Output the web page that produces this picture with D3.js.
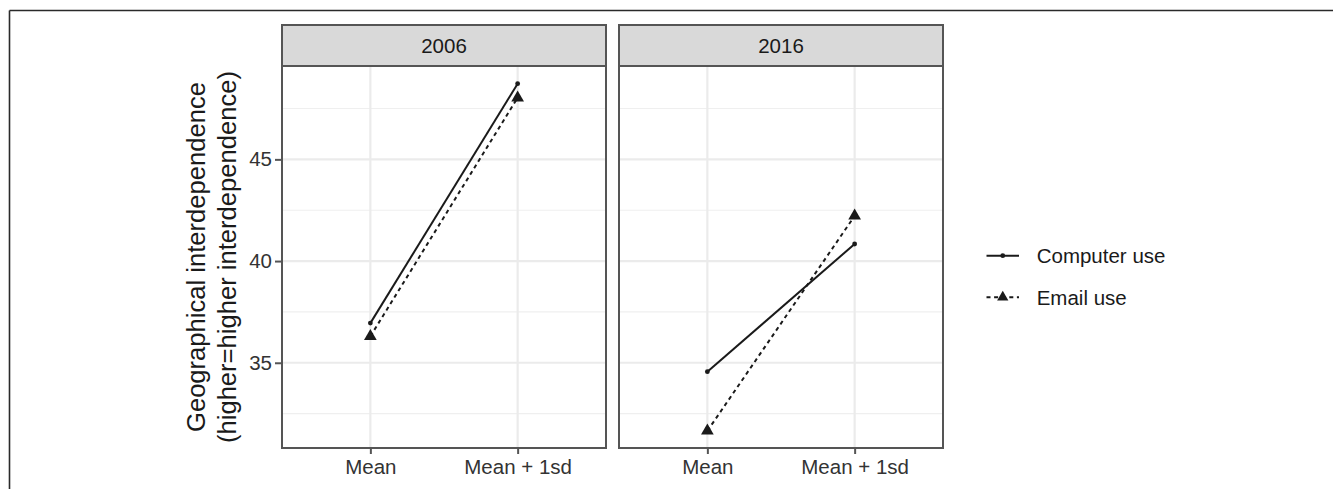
<!DOCTYPE html>
<html>
<head>
<meta charset="utf-8">
<script src="https://cdn.jsdelivr.net/npm/d3@7"></script>
<style>
  html, body { margin: 0; padding: 0; background: #fff; }
  svg { display: block; }
  text { font-family: "Liberation Sans", Arial, Helvetica, sans-serif; }
</style>
</head>
<body>
<svg id="chart" width="1333" height="489"></svg>
<script>
// ---- data ----
const years = ["2006", "2016"];
const xCategories = ["Mean", "Mean + 1sd"];
const seriesNames = ["Computer use", "Email use"];
const computer2006 = [36.95, 48.72];
const email2006 = [36.30, 48.03];
const computer2016 = [34.56, 40.84];
const email2016 = [31.65, 42.22];
const yMajorTicks = [35, 40, 45];
const yMinorTicks = [32.5, 37.5, 42.5, 47.5];
const yLimits = [30.81, 49.59];
const yTitleLines = ["Geographical interdependence", "(higher=higher interdependence)"];

const panelData = [
  { year: years[0], computer: computer2006, email: email2006 },
  { year: years[1], computer: computer2016, email: email2016 }
];

// ---- layout ----
const svg = d3.select("#chart");
const panelTop = 66, panelBottom = 448, stripTop = 25;
const panelsX = [[282, 606], [619, 943]];
const ink = "#1a1a1a";
const borderCol = "#555555";
const fontSize = 20.5;

// outer frame
svg.append("line").attr("x1", 9.5).attr("x2", 1333).attr("y1", 10.5).attr("y2", 10.5)
  .attr("stroke", "#2a2a2a").attr("stroke-width", 1.6);
svg.append("line").attr("x1", 9.5).attr("x2", 9.5).attr("y1", 10.5).attr("y2", 489)
  .attr("stroke", "#2a2a2a").attr("stroke-width", 1.6);

const y = d3.scaleLinear().domain(yLimits).range([panelBottom, panelTop]);

const triSize = 70; // area for d3.symbolTriangle
const triangle = d3.symbol().type(d3.symbolTriangle).size(triSize);

panelData.forEach((pd, i) => {
  const [x0, x1] = panelsX[i];
  const x = d3.scalePoint().domain(xCategories).range([x0, x1]).padding(0.6);
  const g = svg.append("g");

  // minor grid
  g.selectAll(".minor").data(yMinorTicks).enter().append("line")
    .attr("x1", x0).attr("x2", x1).attr("y1", d => y(d)).attr("y2", d => y(d))
    .attr("stroke", "#efefef").attr("stroke-width", 1.1);
  // major grid
  g.selectAll(".major").data(yMajorTicks).enter().append("line")
    .attr("x1", x0).attr("x2", x1).attr("y1", d => y(d)).attr("y2", d => y(d))
    .attr("stroke", "#ebebeb").attr("stroke-width", 2.2);
  g.selectAll(".vmajor").data(xCategories).enter().append("line")
    .attr("x1", d => x(d)).attr("x2", d => x(d)).attr("y1", panelTop).attr("y2", panelBottom)
    .attr("stroke", "#ebebeb").attr("stroke-width", 2.2);

  // lines
  const line = d3.line().x((d, k) => x(xCategories[k])).y(d => y(d));
  g.append("path").attr("d", line(pd.computer)).attr("fill", "none")
    .attr("stroke", ink).attr("stroke-width", 2);
  g.append("path").attr("d", line(pd.email)).attr("fill", "none")
    .attr("stroke", ink).attr("stroke-width", 2).attr("stroke-dasharray", "4,3.6");

  // points
  g.selectAll(".pc").data(pd.computer).enter().append("circle")
    .attr("cx", (d, k) => x(xCategories[k])).attr("cy", d => y(d)).attr("r", 2.4)
    .attr("fill", ink);
  g.selectAll(".pe").data(pd.email).enter().append("path")
    .attr("d", triangle)
    .attr("transform", (d, k) => `translate(${x(xCategories[k])},${y(d)})`)
    .attr("fill", ink);

  // panel border
  g.append("rect").attr("x", x0).attr("y", panelTop).attr("width", x1 - x0).attr("height", panelBottom - panelTop)
    .attr("fill", "none").attr("stroke", borderCol).attr("stroke-width", 2);
  // strip
  g.append("rect").attr("x", x0).attr("y", stripTop).attr("width", x1 - x0).attr("height", panelTop - stripTop)
    .attr("fill", "#d9d9d9").attr("stroke", borderCol).attr("stroke-width", 2);
  g.append("text").attr("x", (x0 + x1) / 2).attr("y", (stripTop + panelTop) / 2)
    .attr("text-anchor", "middle").attr("dominant-baseline", "central")
    .attr("font-size", fontSize).attr("fill", ink).text(pd.year);

  // x axis
  const xAxis = d3.axisBottom(x).tickSize(6).tickPadding(5);
  const xa = g.append("g").attr("transform", `translate(0,${panelBottom})`).call(xAxis);
  xa.select(".domain").remove();
  xa.selectAll(".tick line").attr("stroke", borderCol).attr("stroke-width", 2);
  xa.selectAll(".tick text").attr("font-size", fontSize).attr("fill", "#333")
    .attr("font-family", "Liberation Sans, Arial, Helvetica, sans-serif");

  if (i === 0) {
    const yAxis = d3.axisLeft(y).tickValues(yMajorTicks).tickSize(7).tickPadding(3);
    const ya = g.append("g").attr("transform", `translate(${x0},0)`).call(yAxis);
    ya.select(".domain").remove();
    ya.selectAll(".tick line").attr("stroke", borderCol).attr("stroke-width", 2);
    ya.selectAll(".tick text").attr("font-size", fontSize).attr("fill", "#333")
      .attr("font-family", "Liberation Sans, Arial, Helvetica, sans-serif");
  }
});

// y axis title (two lines)
const midY = (panelTop + panelBottom) / 2;
const baselinesX = [205, 235.5];
yTitleLines.forEach((t, k) => {
  svg.append("text")
    .attr("transform", `translate(${baselinesX[k]},${midY}) rotate(-90)`)
    .attr("text-anchor", "middle")
    .attr("font-size", 25.6).attr("fill", ink).text(t);
});

// legend
const legRows = [255.7, 297.3];
const keyX0 = 986.5, keyX1 = 1019;
const lg = svg.append("g");
seriesNames.forEach((name, k) => {
  const yy = legRows[k];
  const ln = lg.append("line").attr("x1", keyX0).attr("x2", keyX1).attr("y1", yy).attr("y2", yy)
    .attr("stroke", ink).attr("stroke-width", 2);
  if (k === 0) {
    lg.append("circle").attr("cx", (keyX0 + keyX1) / 2).attr("cy", yy).attr("r", 2.4).attr("fill", ink);
  } else {
    ln.attr("stroke-dasharray", "4,3.6").attr("stroke-dashoffset", 0);
    lg.append("path").attr("d", d3.symbol().type(d3.symbolTriangle).size(55)())
      .attr("transform", `translate(${(keyX0 + keyX1) / 2},${yy})`).attr("fill", ink);
  }
  lg.append("text").attr("x", 1036.7).attr("y", yy).attr("dominant-baseline", "central")
    .attr("font-size", fontSize).attr("fill", ink).text(name);
});
</script>
</body>
</html>
